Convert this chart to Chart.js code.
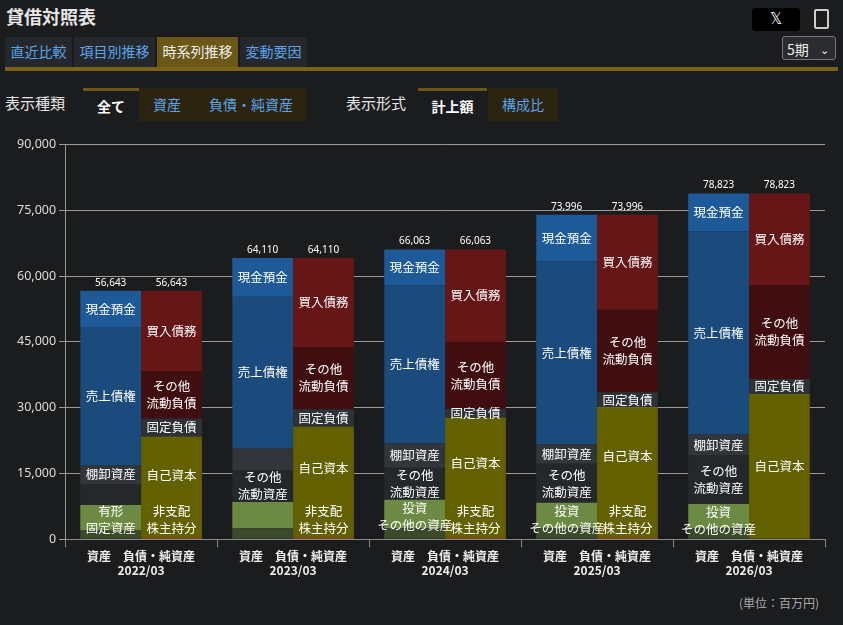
<!DOCTYPE html>
<html><head><meta charset="utf-8">
<script src="https://cdn.jsdelivr.net/npm/chart.js@4"></script>
<style>
body{margin:0;width:843px;height:625px;background:#1b1c1e;font-family:"Noto Sans CJK JP","Noto Sans",sans-serif;color:#ddd;position:relative;overflow:hidden}
.abs{position:absolute}
.title{left:6px;top:3px;font-size:18px;font-weight:bold;color:#e6e6e6}
.tab{top:37px;height:30px;line-height:28px;font-size:14px;color:#5aa3ea;background:#24282c;text-align:center}
.tab.on{background:#6b5716;color:#eee}
.gold{left:5px;top:67px;width:833px;height:4px;background:#7a6219}
.btn{top:88px;height:33px;line-height:33px;font-size:14px;text-align:center;background:#2b2411;color:#5aa3ea}
.btn.on{background:#1b1c1e;color:#fff;border-top:3px solid #6b5716;height:30px;line-height:30px;font-weight:bold}
.lbl{top:92px;font-size:15px;color:#e6e6e6}
</style></head><body>
<div class="abs title">貸借対照表</div>
<div class="abs" style="left:752px;top:8px;width:48px;height:23px;background:#000;border-radius:4px;color:#fff;text-align:center;line-height:23px;font-size:15px;font-family:'DejaVu Sans'">𝕏</div>
<div class="abs" style="left:814px;top:9px;width:11px;height:16px;border:2px solid #ccc;border-radius:2px"></div>
<div class="abs tab" style="left:5px;width:67px">直近比較</div>
<div class="abs tab" style="left:74px;width:81px">項目別推移</div>
<div class="abs tab on" style="left:157px;width:81px">時系列推移</div>
<div class="abs tab" style="left:240px;width:67px">変動要因</div>
<div class="abs" style="left:782px;top:36px;width:54px;height:24px;border:1px solid #777;border-radius:3px;background:#2a2c2f;color:#eee;font-size:14px;line-height:24px;padding-left:4px;box-sizing:border-box">5期 <span style="float:right;margin-right:6px;font-size:11px">&#x2304;</span></div>
<div class="abs gold"></div>
<div class="abs lbl" style="left:5px">表示種類</div>
<div class="abs btn on" style="left:83px;width:56px">全て</div>
<div class="abs btn" style="left:139px;width:56px">資産</div>
<div class="abs btn" style="left:195px;width:112px">負債・純資産</div>
<div class="abs lbl" style="left:346px">表示形式</div>
<div class="abs btn on" style="left:418px;width:69px">計上額</div>
<div class="abs btn" style="left:488px;width:70px">構成比</div>
<div class="abs" style="right:24px;top:594px;font-size:12px;color:#aaa">(単位：百万円)</div>
<div class="abs" style="left:0;top:134px;width:843px;height:446px"><canvas id="c"></canvas></div>
<script>
const periods=["2022/03","2023/03","2024/03","2025/03","2026/03"];
const totals=[56643,64110,66063,73996,78823];
// assets (bottom -> top)
const aOtherFixed=[2100,2500,2500,2500,2500];
const aFixed=[5700,6000,6500,5800,5500];
const aOtherCurrent=[4800,7300,7300,8900,11100];
const aInventory=[4200,4900,5500,4400,4800];
const aReceivables=[31400,34600,36100,41800,46300];
const aCash=[8443,8810,8163,10596,8623];
// liabilities & net assets (bottom -> top)
const lMinority=[400,400,400,400,0];
const lEquity=[23043,25310,27363,29696,33123];
const lFixed=[4100,3900,2000,3400,3400];
const lOtherCurrent=[10800,14200,15200,18800,21400];
const lPayables=[18300,20300,21100,21700,20900];
const yTicks=[0,15000,30000,45000,60000,75000,90000];
const xSub="資産　負債・純資産";

const sets=[
 ["a",aOtherFixed,"#3c4a2c",["","","","",""]],
 ["a",aFixed,"#6d8a45",[["有形","固定資産"],"",["投資","その他の資産"],["投資","その他の資産"],["投資","その他の資産"]]],
 ["a",aOtherCurrent,"#25282b",["",["その他","流動資産"],["その他","流動資産"],["その他","流動資産"],["その他","流動資産"]]],
 ["a",aInventory,"#32363a",["棚卸資産","","棚卸資産","棚卸資産","棚卸資産"]],
 ["a",aReceivables,"#1b4a7d",Array(5).fill("売上債権")],
 ["a",aCash,"#1f5a98",Array(5).fill("現金預金")],
 ["l",lMinority,"#b0561a",["","","","",""]],
 ["l",lEquity,"#636000",Array(5).fill("自己資本")],
 ["l",lFixed,"#2e3236",Array(5).fill("固定負債")],
 ["l",lOtherCurrent,"#400d10",Array(5).fill(["その他","流動負債"])],
 ["l",lPayables,"#671618",Array(5).fill("買入債務")]
];
const minorityLbl=[["非支配","株主持分"],["非支配","株主持分"],["非支配","株主持分"],["非支配","株主持分"],""];
const datasets=sets.map((s,i)=>({label:"d"+i,stack:s[0],data:s[1],backgroundColor:s[2],borderWidth:0,barPercentage:1,categoryPercentage:0.8,inner:s[3]}));
const labelPlugin={id:"lbl",afterDatasetsDraw(ch){
 const c=ch.ctx;c.save();c.fillStyle="#fff";c.textAlign="center";c.textBaseline="middle";c.font="12.5px 'Noto Sans CJK JP'";
 ch.data.datasets.forEach((ds,di)=>{const m=ch.getDatasetMeta(di);m.data.forEach((b,i)=>{
   let t=ds.inner[i];if(!t)return;const lines=Array.isArray(t)?t:[t];
   let cy=(b.y+b.base)/2;
   if(di===1&&i!==0)cy=b.y+17;
   if(di===1&&i===0)cy=(b.y+b.base)/2+2;
   if(di===7&&minorityLbl[i])cy=b.y+(b.base-b.y)*0.38;
   lines.forEach((ln,k)=>c.fillText(ln,b.x,cy+(k-(lines.length-1)/2)*17));
 });});
 const mm=ch.getDatasetMeta(6);mm.data.forEach((b,i)=>{const t=minorityLbl[i];if(!t)return;const base=ch.scales.y.getPixelForValue(0);
   t.forEach((ln,k)=>c.fillText(ln,b.x,base-28+k*17));});
 c.font="10px 'Noto Sans'";c.textBaseline="bottom";
 const a=ch.getDatasetMeta(5),l=ch.getDatasetMeta(10);
 totals.forEach((v,i)=>{const s=v.toLocaleString("en-US");c.fillText(s,a.data[i].x,a.data[i].y-3);c.fillText(s,l.data[i].x,l.data[i].y-3);});
 c.restore();}};
new Chart(document.getElementById("c"),{type:"bar",data:{labels:periods.map(p=>[xSub,p]),datasets},
 plugins:[labelPlugin],
 options:{responsive:true,maintainAspectRatio:false,animation:false,layout:{padding:{left:14,right:18,top:0,bottom:0}},
  plugins:{legend:{display:false},tooltip:{enabled:false}},
  scales:{x:{stacked:true,grid:{display:true,drawOnChartArea:false,color:"#888",tickLength:8,offset:true},border:{color:"#888"},
     ticks:{color:"#eee",font:{size:12,weight:"bold",family:"'Noto Sans CJK JP'"},padding:2}},
   y:{stacked:true,min:0,max:90000,afterBuildTicks:ax=>{ax.ticks=yTicks.map(v=>({value:v}))},grid:{color:"#9a9a9a",tickLength:6},border:{color:"#9a9a9a"},
     ticks:{color:"#ddd",font:{size:12.5,family:"'Noto Sans'"},callback:v=>v.toLocaleString("en-US")}}}}});
</script></body></html>
